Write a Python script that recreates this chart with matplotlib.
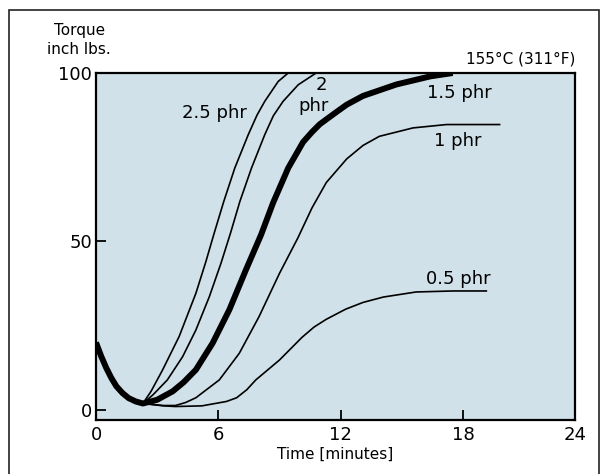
import matplotlib
matplotlib.use("Agg")
import matplotlib.pyplot as plt
from matplotlib.patches import Rectangle

# torque readings (155 C)
# all curves share the same drop to the minimum
start_t = [0, 0.25, 0.5, 0.75, 1.0, 1.3, 1.6, 1.95, 2.3]
start_q = [20, 16, 12.5, 9.5, 7.0, 5.0, 3.5, 2.5, 1.9]

t_25 = [2.7, 3.27, 4.08, 4.9, 5.39, 5.8, 6.27, 6.81, 7.47, 7.9, 8.28, 8.94, 9.43]
q_25 = [5.5, 11.9, 21.8, 34.6, 44, 52.5, 61.9, 71.8, 81.7, 87.5, 91.6, 97.5, 100]

t_20 = [2.8, 3.5, 4.25, 4.9, 5.56, 6.13, 6.6, 7.06, 7.63, 8.28, 8.7, 9.18, 9.92, 10.8]
q_20 = [4.5, 8.9, 15.8, 23.7, 33.6, 43.5, 52.5, 61.9, 71.8, 81.7, 87.3, 91.6, 96.5, 100]

t_15 = [3.0, 3.76, 4.3, 4.9, 5.72, 6.54, 7.35, 8.1, 8.69, 9.43, 10.16, 10.6, 10.98, 11.7,
        12.3, 13.1, 14.74, 16.4, 17.5]
q_15 = [3.0, 5.5, 8.2, 11.9, 19.8, 29.7, 41.5, 52, 61.5, 71.8, 79.5, 82.5, 84.8, 88,
        90.6, 93.2, 96.6, 99, 100]

t_10 = [3.3, 3.9, 4.4, 4.9, 6.05, 7.03, 8.0, 9.0, 9.9, 10.6, 11.3, 12.3, 13.1, 13.9,
        15.55, 17.2, 19.8]
q_10 = [1.3, 1.3, 2.2, 3.6, 8.9, 16.8, 27.7, 40.5, 51, 60, 67.5, 74.5, 78.5, 81.2,
        83.7, 84.7, 84.7]

t_05 = [3.3, 3.9, 5.2, 6.4, 6.9, 7.4, 7.84, 9.0, 10.1, 10.7, 11.3, 12.25, 13.1, 14.1,
        15.7, 17.5, 19.15]
q_05 = [1.2, 1.0, 1.2, 2.5, 3.6, 6.0, 8.9, 14.8, 21.5, 24.6, 26.9, 29.9, 31.9, 33.5,
        35, 35.3, 35.3]

x_ticks = [0, 6, 12, 18, 23.5]
x_labels = ["0", "6", "12", "18", "24"]
y_ticks = [0, 50, 100]
y_labels = ["0", "50", "100"]

fig = plt.figure(figsize=(6.08, 4.74), dpi=100)
ax = fig.add_axes([96/608, 1-420/474, (575-96)/608, (420-73)/474])
ax.set_facecolor("#d0e1e9")

thin = 1.2
line_kw = dict(color="black", solid_joinstyle="round")
ax.plot(start_t + t_25, start_q + q_25, lw=thin, **line_kw)
ax.plot(start_t + t_20, start_q + q_20, lw=thin, **line_kw)
ax.plot(start_t + t_10, start_q + q_10, lw=thin, **line_kw)
ax.plot(start_t + t_05, start_q + q_05, lw=thin, **line_kw)
ax.plot(start_t + t_15, start_q + q_15, lw=4.3, solid_capstyle="butt", **line_kw)

ax.set_xlim(0, 23.5)
ax.set_ylim(-3, 100)
ax.set_xticks(x_ticks)
ax.set_xticklabels(x_labels)
ax.set_yticks(y_ticks)
ax.set_yticklabels(y_labels)
ax.tick_params(direction="in", length=7, width=1.3, labelsize=13, pad=4)
ax.tick_params(axis="y", pad=3)
for s in ax.spines.values():
    s.set_linewidth(1.6)

ax.set_xlabel("Time [minutes]", fontsize=11, labelpad=2)

# curve labels
fs = 13
ax.text(5.82, 88, "2.5 phr", fontsize=fs, ha="center", va="center")
ax.text(11.07, 96.5, "2", fontsize=fs, ha="center", va="center")
ax.text(10.65, 90.1, "phr", fontsize=fs, ha="center", va="center")
ax.text(17.84, 94, "1.5 phr", fontsize=fs, ha="center", va="center")
ax.text(17.76, 79.9, "1 phr", fontsize=fs, ha="center", va="center")
ax.text(17.76, 38.9, "0.5 phr", fontsize=fs, ha="center", va="center")

fig.text(80/608, 1-30/474, "Torque", fontsize=11, ha="center", va="center")
fig.text(79/608, 1-50/474, "inch lbs.", fontsize=11, ha="center", va="center")
fig.text(575/608, 1-59/474, "155°C (311°F)", fontsize=11, ha="right", va="center")

# outer frame
fig.patches.append(Rectangle((8.5/608, -0.02), (599-8.5)/608, 1.02-10/474,
                             transform=fig.transFigure, fill=False,
                             edgecolor="#222222", lw=1.2))

fig.savefig("out.png", dpi=100)
